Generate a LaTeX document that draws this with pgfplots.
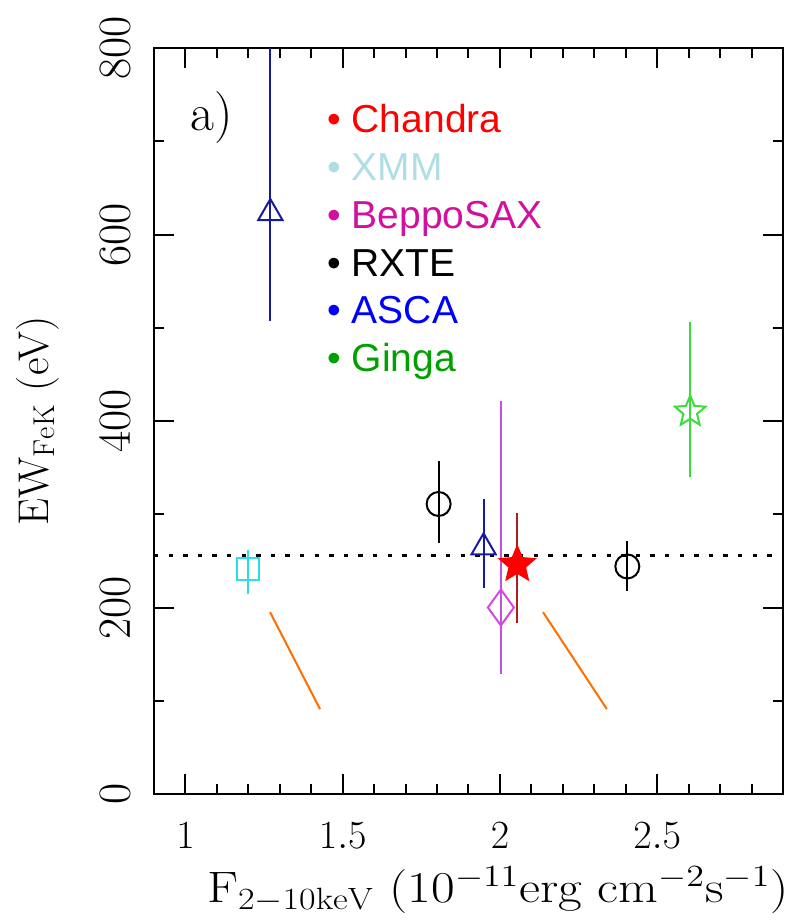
\RequirePackage{fix-cm}
\documentclass[border=0pt]{standalone}
\usepackage{fontspec}
\usepackage{graphicx}
\newfontfamily\legfont{Liberation Sans}
\usepackage{pgfplots}
\pgfplotsset{compat=1.18}
\usetikzlibrary{plotmarks}

\definecolor{xmmc}{RGB}{40,225,230}
\definecolor{ascac}{RGB}{25,25,160}
\definecolor{beppoc}{RGB}{215,70,225}
\definecolor{beppol}{RGB}{190,80,230}
\definecolor{chanc}{RGB}{255,0,0}
\definecolor{chanl}{RGB}{175,30,30}
\definecolor{gingac}{RGB}{60,220,60}
\definecolor{orangec}{RGB}{255,110,0}
\definecolor{lxmm}{RGB}{176,222,228}
\definecolor{lbeppo}{RGB}{210,16,160}
\definecolor{lasca}{RGB}{0,0,255}
\definecolor{lginga}{RGB}{0,160,0}

\def\starpath{%
 \pgfpathmoveto{\pgfpointpolar{90}{\pgfplotmarksize}}%
 \pgfpathlineto{\pgfpointpolar{126}{0.45\pgfplotmarksize}}%
 \pgfpathlineto{\pgfpointpolar{162}{\pgfplotmarksize}}%
 \pgfpathlineto{\pgfpointpolar{198}{0.45\pgfplotmarksize}}%
 \pgfpathlineto{\pgfpointpolar{234}{\pgfplotmarksize}}%
 \pgfpathlineto{\pgfpointpolar{270}{0.45\pgfplotmarksize}}%
 \pgfpathlineto{\pgfpointpolar{306}{\pgfplotmarksize}}%
 \pgfpathlineto{\pgfpointpolar{342}{0.45\pgfplotmarksize}}%
 \pgfpathlineto{\pgfpointpolar{18}{\pgfplotmarksize}}%
 \pgfpathlineto{\pgfpointpolar{54}{0.45\pgfplotmarksize}}%
 \pgfpathclose}
\pgfdeclareplotmark{fivestar}{\starpath\pgfusepathqfillstroke}
\pgfdeclareplotmark{fivestaro}{\starpath\pgfusepathqstroke}
\pgfdeclareplotmark{tdiamond}{%
 \pgfpathmoveto{\pgfqpoint{0pt}{1.38\pgfplotmarksize}}%
 \pgfpathlineto{\pgfqpoint{\pgfplotmarksize}{0pt}}%
 \pgfpathlineto{\pgfqpoint{0pt}{-1.38\pgfplotmarksize}}%
 \pgfpathlineto{\pgfqpoint{-\pgfplotmarksize}{0pt}}%
 \pgfpathclose\pgfusepathqstroke}

\begin{document}
\begin{tikzpicture}
\useasboundingbox (-77pt,-64pt) rectangle (318pt,397pt);
\begin{axis}[
 at={(0pt,0pt)}, anchor=south west,
 scale only axis, width=314.5pt, height=373pt,
 xmin=0.9, xmax=2.9, ymin=0, ymax=800,
 xtick={1,1.5,2,2.5}, ytick={0,200,400,600,800},
 minor xtick={1.1,1.2,1.3,1.4,1.6,1.7,1.8,1.9,2.1,2.2,2.3,2.4,2.6,2.7,2.8},
 minor ytick={100,300,500,700},
 tick align=inside, tick pos=both,
 major tick length=10pt, minor tick length=5pt,
 axis line style={line width=1.2pt},
 every tick/.style={line width=1pt, black},
 xticklabel style={font=\fontsize{20}{24}\selectfont, anchor=base},
 xticklabel shift=27pt,
 yticklabel style={font=\fontsize{23}{27}\selectfont, rotate=90, anchor=base},
 yticklabel shift=12pt,
 xlabel={\scalebox{1.17}[1]{F$_{\mathrm{2{-}10keV}}$ (10$^{-11}$erg cm$^{-2}$s$^{-1}$)}},
 xlabel style={at={(axis description cs:0.0838,-0.1460)}, anchor=base west, inner sep=0pt, font=\fontsize{22}{26}\selectfont},
 ylabel={EW$_{\mathrm{FeK}}$ (eV)},
 ylabel style={at={(axis description cs:-0.168,0.5)}, anchor=base, inner sep=0pt, font=\fontsize{21.5}{26}\selectfont},
 clip=true,
]
% reference level
\addplot[black, line width=1.3pt, dash pattern=on 2.2pt off 5.1pt] coordinates {(0.9,256) (2.9,256)};
% orange lines
\addplot[orangec, line width=1pt] coordinates {(1.269,195) (1.428,91)};
\addplot[orangec, line width=1pt] coordinates {(2.137,195) (2.340,91)};
% XMM
\addplot[xmmc, line width=1pt, only marks, mark=square, mark size=5.5pt,
 error bars/.cd, y dir=both, y explicit, error mark=none, error bar style={xmmc, line width=1pt}]
 coordinates {(1.2,241) += (0,21) -= (0,27)};
% ASCA
\addplot[ascac, line width=1pt, only marks, mark=triangle, mark size=7pt,
 error bars/.cd, y dir=both, y explicit, error mark=none, error bar style={ascac, line width=1pt}]
 coordinates {(1.27,623) += (0,300) -= (0,116)
              (1.948,264.5) += (0,52) -= (0,44)};
% RXTE
\addplot[black, line width=1pt, only marks, mark=o, mark size=6pt,
 error bars/.cd, y dir=both, y explicit, error mark=none, error bar style={black, line width=1pt}]
 coordinates {(1.805,311) += (0,46) -= (0,42)
              (2.405,244) += (0,27) -= (0,26)};
% BeppoSAX
\addplot[beppol, line width=1pt] coordinates {(2.003,129) (2.003,421)};
\addplot[beppoc, line width=1pt, only marks, mark=tdiamond, mark size=6.5pt]
 coordinates {(2.003,200)};
% Chandra
\addplot[chanl, line width=1pt] coordinates {(2.055,183) (2.055,301)};
\addplot[chanc, line width=0.6pt, only marks, mark=fivestar, mark size=9.5pt, mark options={fill=chanc}]
 coordinates {(2.055,246)};
% Ginga
\addplot[gingac, line width=1pt] coordinates {(2.605,340) (2.605,506)};
\addplot[gingac, line width=1pt, only marks, mark=fivestaro, mark size=8pt]
 coordinates {(2.605,410)};

\node[anchor=base west, inner sep=0pt, font=\fontsize{26}{30}\selectfont] at (axis cs:1.014,712) {a)};

\node[anchor=base west, inner sep=0pt, text=chanc, font=\legfont\fontsize{19.5}{23}\selectfont] at (axis cs:1.45,709.2) {• Chandra};
\node[anchor=base west, inner sep=0pt, text=lxmm, font=\legfont\fontsize{19.5}{23}\selectfont] at (axis cs:1.45,658.0) {• XMM};
\node[anchor=base west, inner sep=0pt, text=lbeppo, font=\legfont\fontsize{19.5}{23}\selectfont] at (axis cs:1.45,606.7) {• BeppoSAX};
\node[anchor=base west, inner sep=0pt, text=black, font=\legfont\fontsize{19.5}{23}\selectfont] at (axis cs:1.45,555.4) {• RXTE};
\node[anchor=base west, inner sep=0pt, text=lasca, font=\legfont\fontsize{19.5}{23}\selectfont] at (axis cs:1.45,504.1) {• ASCA};
\node[anchor=base west, inner sep=0pt, text=lginga, font=\legfont\fontsize{19.5}{23}\selectfont] at (axis cs:1.45,452.9) {• Ginga};
\end{axis}
\end{tikzpicture}
\end{document}
